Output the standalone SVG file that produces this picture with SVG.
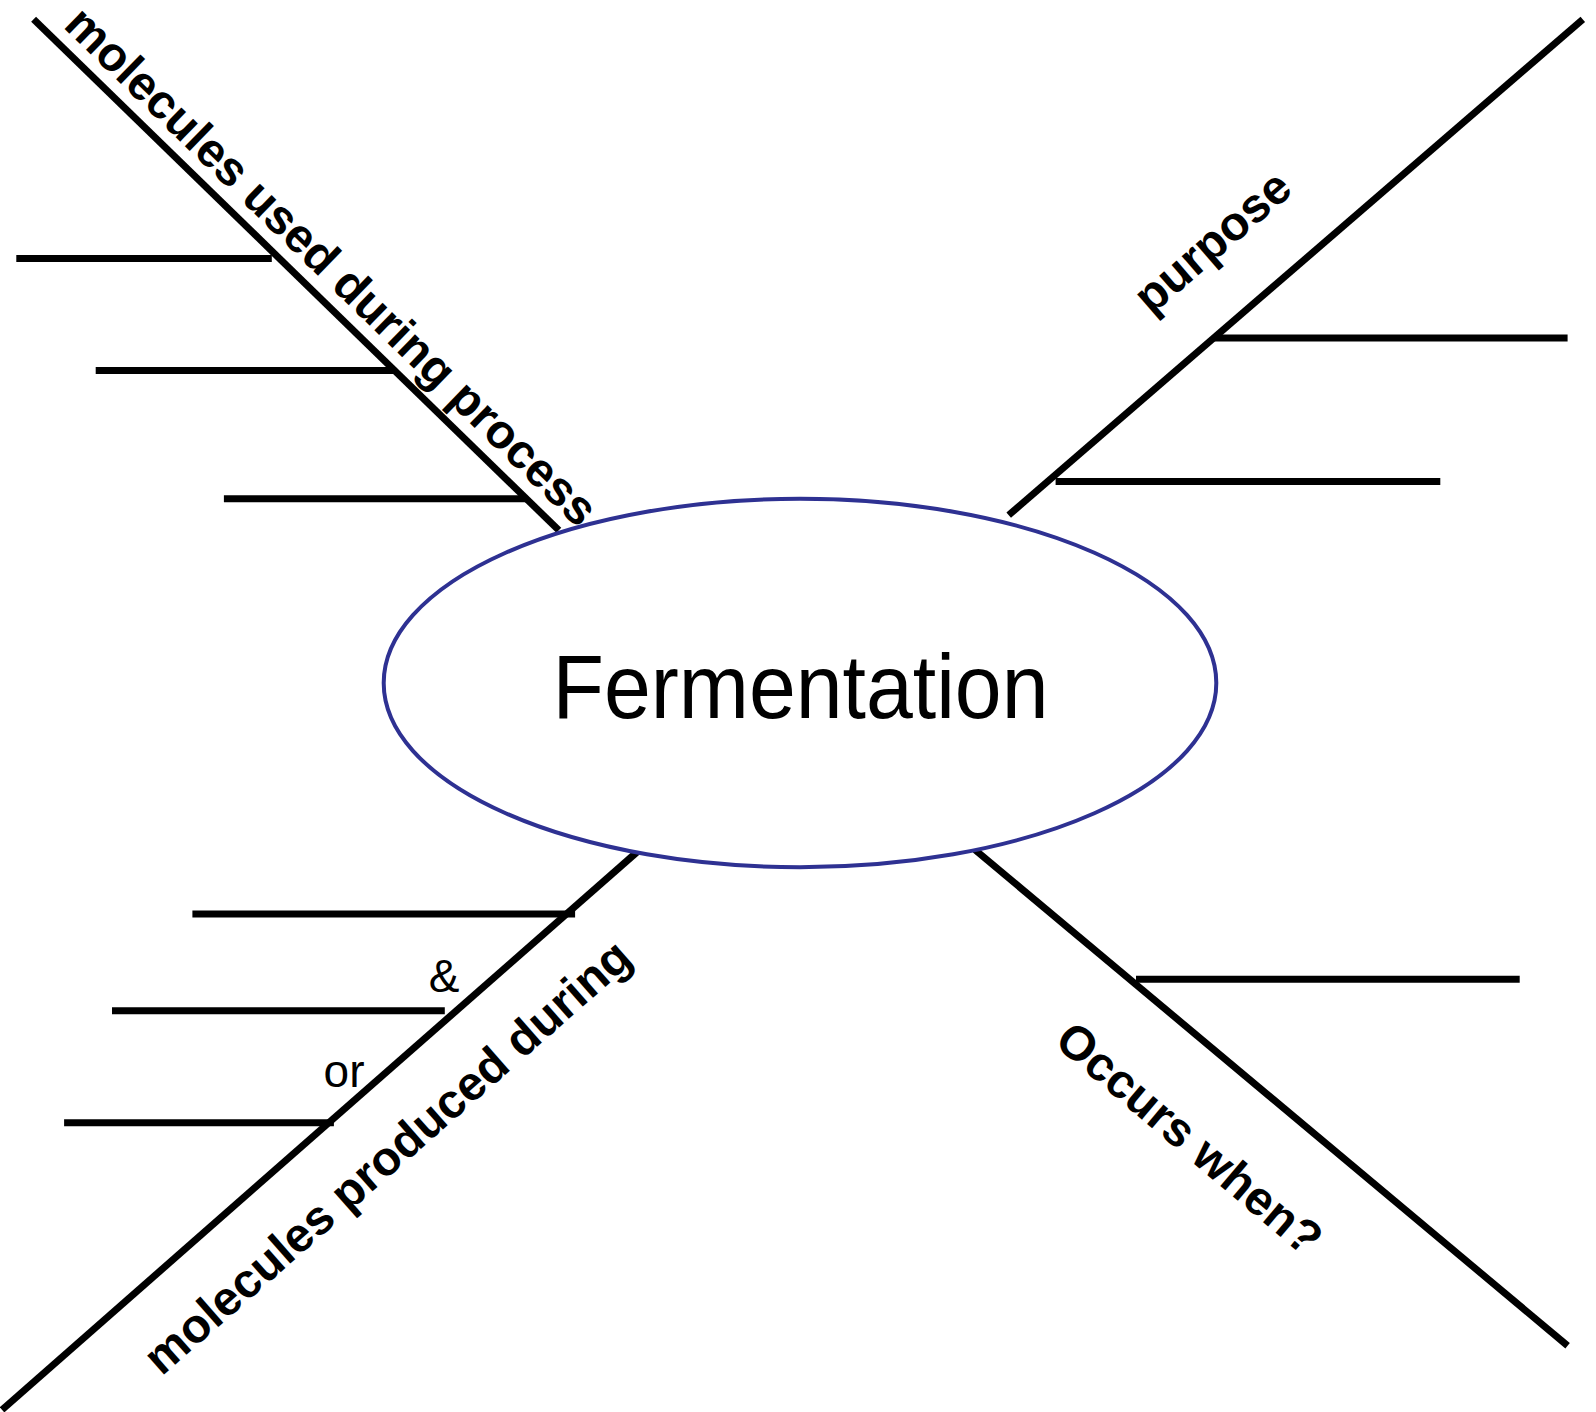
<svg xmlns="http://www.w3.org/2000/svg" width="1596" height="1412" viewBox="0 0 1596 1412">
<style>
.ln{stroke:#000;stroke-width:7;fill:none;stroke-linecap:butt}
.lbl{font-family:"Liberation Sans",Arial,sans-serif;font-weight:bold;font-size:48px;fill:#000}
.reg{font-family:"Liberation Sans",Arial,sans-serif;font-size:46px;fill:#000}
</style>
<rect width="1596" height="1412" fill="#fff"/>
<g id="connectors">
<line class="ln" x1="33.6" y1="19.3" x2="558.8" y2="530.3"/>
<line class="ln" x1="16.3" y1="258.5" x2="271.8" y2="258.5"/>
<line class="ln" x1="95.7" y1="370.5" x2="394.9" y2="370.5"/>
<line class="ln" x1="223.9" y1="498.8" x2="526.3" y2="498.8"/>
<line class="ln" x1="1582.8" y1="19.3" x2="1008.7" y2="515.1"/>
<line class="ln" x1="1214.4" y1="337.9" x2="1567.6" y2="337.9"/>
<line class="ln" x1="1055.6" y1="481.5" x2="1440.3" y2="481.5"/>
<line class="ln" x1="638.2" y1="851" x2="2" y2="1409.8"/>
<line class="ln" x1="192.4" y1="914" x2="575.1" y2="914"/>
<line class="ln" x1="112" y1="1010.8" x2="444.8" y2="1010.8"/>
<line class="ln" x1="64.1" y1="1122.7" x2="333.9" y2="1122.7"/>
<line class="ln" x1="975.1" y1="849.9" x2="1567.6" y2="1345.7"/>
<line class="ln" x1="1136" y1="979.2" x2="1519.7" y2="979.2"/>
</g>
<g id="center">
<ellipse cx="800" cy="683" rx="416.3" ry="184.2" fill="#fff" stroke="#2e3192" stroke-width="4"/>
<text x="800.5" y="718" text-anchor="middle" font-family="Liberation Sans, Arial, sans-serif" font-size="90" textLength="496" lengthAdjust="spacingAndGlyphs">Fermentation</text>
</g>
<g id="label-used">
<text class="lbl" transform="translate(320.3,277.8) rotate(44.2)" text-anchor="middle">molecules used during process</text>
</g>
<g id="label-purpose">
<text class="lbl" transform="translate(1223,254) rotate(-40.8)" text-anchor="middle">purpose</text>
</g>
<g id="label-produced">
<text class="lbl" transform="translate(398,1169) rotate(-41.3)" text-anchor="middle">molecules produced during</text>
</g>
<g id="label-occurs">
<text class="lbl" transform="translate(1179,1151) rotate(40.3)" text-anchor="middle">Occurs when?</text>
</g>
<g id="label-and">
<text class="reg" x="444" y="992" text-anchor="middle">&amp;</text>
</g>
<g id="label-or">
<text class="reg" x="344" y="1087" text-anchor="middle">or</text>
</g>
</svg>
